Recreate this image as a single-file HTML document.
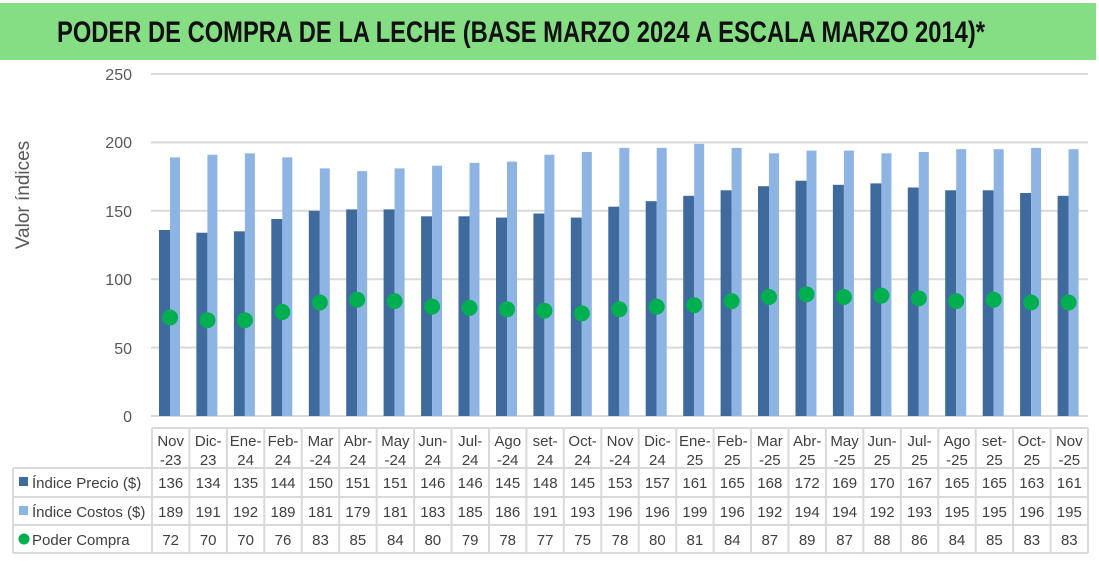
<!DOCTYPE html>
<html><head><meta charset="utf-8"><style>
body{margin:0;background:#fff;width:1099px;height:568px;overflow:hidden}
svg{display:block;font-family:"Liberation Sans",sans-serif}
.t{font-size:15px;fill:#404040;text-anchor:middle}
.y{font-size:16px;fill:#595959;text-anchor:end}
</style></head><body>
<svg width="1099" height="568" viewBox="0 0 1099 568">
<rect x="0" y="3" width="1096" height="57" fill="#86de84"/>
<text x="521" y="42" text-anchor="middle" font-size="30" font-weight="bold" fill="#111" textLength="928" lengthAdjust="spacingAndGlyphs" style="font-family:'Liberation Sans Narrow','Liberation Sans',sans-serif">PODER DE COMPRA DE LA LECHE (BASE MARZO 2024 A ESCALA MARZO 2014)*</text>
<g stroke="#d9d9d9" stroke-width="2">
<line x1="151" x2="1088" y1="74" y2="74"/><line x1="151" x2="1088" y1="142.4" y2="142.4"/><line x1="151" x2="1088" y1="210.8" y2="210.8"/><line x1="151" x2="1088" y1="279.2" y2="279.2"/><line x1="151" x2="1088" y1="347.6" y2="347.6"/><line x1="151" x2="1088" y1="416" y2="416"/>
</g>
<g class="y"><text class="y" x="132" y="80">250</text><text class="y" x="132" y="148">200</text><text class="y" x="132" y="217">150</text><text class="y" x="132" y="285">100</text><text class="y" x="132" y="354">50</text><text class="y" x="132" y="422">0</text></g>
<text transform="translate(29,195) rotate(-90)" text-anchor="middle" font-size="19" fill="#595959">Valor índices</text>
<defs><g id="d"></g></defs>
<g fill="#3f6a9e">
<rect x="159" y="230" width="11" height="186"/><rect x="196.4" y="232.7" width="11" height="183.3"/><rect x="233.9" y="231.3" width="11" height="184.7"/><rect x="271.3" y="219" width="11" height="197"/><rect x="308.8" y="210.8" width="11" height="205.2"/><rect x="346.2" y="209.4" width="11" height="206.6"/><rect x="383.6" y="209.4" width="11" height="206.6"/><rect x="421.1" y="216.3" width="11" height="199.7"/><rect x="458.5" y="216.3" width="11" height="199.7"/><rect x="496" y="217.6" width="11" height="198.4"/><rect x="533.4" y="213.5" width="11" height="202.5"/><rect x="570.8" y="217.6" width="11" height="198.4"/><rect x="608.3" y="206.7" width="11" height="209.3"/><rect x="645.7" y="201.2" width="11" height="214.8"/><rect x="683.2" y="195.8" width="11" height="220.2"/><rect x="720.6" y="190.3" width="11" height="225.7"/><rect x="758" y="186.2" width="11" height="229.8"/><rect x="795.5" y="180.7" width="11" height="235.3"/><rect x="832.9" y="184.8" width="11" height="231.2"/><rect x="870.4" y="183.4" width="11" height="232.6"/><rect x="907.8" y="187.5" width="11" height="228.5"/><rect x="945.2" y="190.3" width="11" height="225.7"/><rect x="982.7" y="190.3" width="11" height="225.7"/><rect x="1020.1" y="193" width="11" height="223"/><rect x="1057.6" y="195.8" width="11" height="220.2"/>
</g>
<g fill="#8eb4e3">
<rect x="170" y="157.4" width="10" height="258.6"/><rect x="207.4" y="154.7" width="10" height="261.3"/><rect x="244.9" y="153.3" width="10" height="262.7"/><rect x="282.3" y="157.4" width="10" height="258.6"/><rect x="319.8" y="168.4" width="10" height="247.6"/><rect x="357.2" y="171.1" width="10" height="244.9"/><rect x="394.6" y="168.4" width="10" height="247.6"/><rect x="432.1" y="165.7" width="10" height="250.3"/><rect x="469.5" y="162.9" width="10" height="253.1"/><rect x="507" y="161.6" width="10" height="254.4"/><rect x="544.4" y="154.7" width="10" height="261.3"/><rect x="581.8" y="152" width="10" height="264"/><rect x="619.3" y="147.9" width="10" height="268.1"/><rect x="656.7" y="147.9" width="10" height="268.1"/><rect x="694.2" y="143.8" width="10" height="272.2"/><rect x="731.6" y="147.9" width="10" height="268.1"/><rect x="769" y="153.3" width="10" height="262.7"/><rect x="806.5" y="150.6" width="10" height="265.4"/><rect x="843.9" y="150.6" width="10" height="265.4"/><rect x="881.4" y="153.3" width="10" height="262.7"/><rect x="918.8" y="152" width="10" height="264"/><rect x="956.2" y="149.2" width="10" height="266.8"/><rect x="993.7" y="149.2" width="10" height="266.8"/><rect x="1031.1" y="147.9" width="10" height="268.1"/><rect x="1068.6" y="149.2" width="10" height="266.8"/>
</g>
<g fill="#00b050">
<circle cx="170" cy="317.5" r="8"/><circle cx="207.4" cy="320.2" r="8"/><circle cx="244.9" cy="320.2" r="8"/><circle cx="282.3" cy="312" r="8"/><circle cx="319.8" cy="302.5" r="8"/><circle cx="357.2" cy="299.7" r="8"/><circle cx="394.6" cy="301.1" r="8"/><circle cx="432.1" cy="306.6" r="8"/><circle cx="469.5" cy="307.9" r="8"/><circle cx="507" cy="309.3" r="8"/><circle cx="544.4" cy="310.7" r="8"/><circle cx="581.8" cy="313.4" r="8"/><circle cx="619.3" cy="309.3" r="8"/><circle cx="656.7" cy="306.6" r="8"/><circle cx="694.2" cy="305.2" r="8"/><circle cx="731.6" cy="301.1" r="8"/><circle cx="769" cy="297" r="8"/><circle cx="806.5" cy="294.2" r="8"/><circle cx="843.9" cy="297" r="8"/><circle cx="881.4" cy="295.6" r="8"/><circle cx="918.8" cy="298.4" r="8"/><circle cx="956.2" cy="301.1" r="8"/><circle cx="993.7" cy="299.7" r="8"/><circle cx="1031.1" cy="302.5" r="8"/><circle cx="1068.6" cy="302.5" r="8"/>
</g>
<!-- table grid -->
<g stroke="#d9d9d9" stroke-width="2" fill="none">
<line x1="152" x2="1088" y1="428" y2="428"/>
<line x1="13" x2="1088" y1="468" y2="468"/><line x1="13" x2="1088" y1="497" y2="497"/><line x1="13" x2="1088" y1="525" y2="525"/><line x1="13" x2="1088" y1="553" y2="553"/>
<line x1="13" x2="13" y1="468" y2="553"/>
<line x1="152" x2="152" y1="428" y2="553"/><line x1="189.4" x2="189.4" y1="428" y2="553"/><line x1="226.9" x2="226.9" y1="428" y2="553"/><line x1="264.3" x2="264.3" y1="428" y2="553"/><line x1="301.8" x2="301.8" y1="428" y2="553"/><line x1="339.2" x2="339.2" y1="428" y2="553"/><line x1="376.6" x2="376.6" y1="428" y2="553"/><line x1="414.1" x2="414.1" y1="428" y2="553"/><line x1="451.5" x2="451.5" y1="428" y2="553"/><line x1="489" x2="489" y1="428" y2="553"/><line x1="526.4" x2="526.4" y1="428" y2="553"/><line x1="563.8" x2="563.8" y1="428" y2="553"/><line x1="601.3" x2="601.3" y1="428" y2="553"/><line x1="638.7" x2="638.7" y1="428" y2="553"/><line x1="676.2" x2="676.2" y1="428" y2="553"/><line x1="713.6" x2="713.6" y1="428" y2="553"/><line x1="751" x2="751" y1="428" y2="553"/><line x1="788.5" x2="788.5" y1="428" y2="553"/><line x1="825.9" x2="825.9" y1="428" y2="553"/><line x1="863.4" x2="863.4" y1="428" y2="553"/><line x1="900.8" x2="900.8" y1="428" y2="553"/><line x1="938.2" x2="938.2" y1="428" y2="553"/><line x1="975.7" x2="975.7" y1="428" y2="553"/><line x1="1013.1" x2="1013.1" y1="428" y2="553"/><line x1="1050.6" x2="1050.6" y1="428" y2="553"/><line x1="1088" x2="1088" y1="428" y2="553"/>
</g>
<rect x="19" y="477" width="9" height="9" fill="#3f6a9e"/>
<rect x="19" y="506" width="9" height="9" fill="#8eb4e3"/>
<circle cx="24" cy="539" r="5.5" fill="#00b050"/>
<g font-size="15" fill="#404040">
<text x="32" y="488">Índice Precio ($)</text>
<text x="32" y="517">Índice Costos ($)</text>
<text x="32" y="545">Poder Compra</text>
</g>
<g class="t">
<text class="t" x="170.7" y="446">Nov</text><text class="t" x="170.7" y="465">-23</text>
<text class="t" x="208.2" y="446">Dic-</text><text class="t" x="208.2" y="465">23</text>
<text class="t" x="245.6" y="446">Ene-</text><text class="t" x="245.6" y="465">24</text>
<text class="t" x="283" y="446">Feb-</text><text class="t" x="283" y="465">24</text>
<text class="t" x="320.5" y="446">Mar</text><text class="t" x="320.5" y="465">-24</text>
<text class="t" x="357.9" y="446">Abr-</text><text class="t" x="357.9" y="465">24</text>
<text class="t" x="395.4" y="446">May</text><text class="t" x="395.4" y="465">-24</text>
<text class="t" x="432.8" y="446">Jun-</text><text class="t" x="432.8" y="465">24</text>
<text class="t" x="470.2" y="446">Jul-</text><text class="t" x="470.2" y="465">24</text>
<text class="t" x="507.7" y="446">Ago</text><text class="t" x="507.7" y="465">-24</text>
<text class="t" x="545.1" y="446">set-</text><text class="t" x="545.1" y="465">24</text>
<text class="t" x="582.6" y="446">Oct-</text><text class="t" x="582.6" y="465">24</text>
<text class="t" x="620" y="446">Nov</text><text class="t" x="620" y="465">-24</text>
<text class="t" x="657.4" y="446">Dic-</text><text class="t" x="657.4" y="465">24</text>
<text class="t" x="694.9" y="446">Ene-</text><text class="t" x="694.9" y="465">25</text>
<text class="t" x="732.3" y="446">Feb-</text><text class="t" x="732.3" y="465">25</text>
<text class="t" x="769.8" y="446">Mar</text><text class="t" x="769.8" y="465">-25</text>
<text class="t" x="807.2" y="446">Abr-</text><text class="t" x="807.2" y="465">25</text>
<text class="t" x="844.6" y="446">May</text><text class="t" x="844.6" y="465">-25</text>
<text class="t" x="882.1" y="446">Jun-</text><text class="t" x="882.1" y="465">25</text>
<text class="t" x="919.5" y="446">Jul-</text><text class="t" x="919.5" y="465">25</text>
<text class="t" x="957" y="446">Ago</text><text class="t" x="957" y="465">-25</text>
<text class="t" x="994.4" y="446">set-</text><text class="t" x="994.4" y="465">25</text>
<text class="t" x="1031.8" y="446">Oct-</text><text class="t" x="1031.8" y="465">25</text>
<text class="t" x="1069.3" y="446">Nov</text><text class="t" x="1069.3" y="465">-25</text>
</g>
<g class="t">
<text class="t" x="170.7" y="488">136</text><text class="t" x="208.2" y="488">134</text><text class="t" x="245.6" y="488">135</text><text class="t" x="283" y="488">144</text><text class="t" x="320.5" y="488">150</text><text class="t" x="357.9" y="488">151</text><text class="t" x="395.4" y="488">151</text><text class="t" x="432.8" y="488">146</text><text class="t" x="470.2" y="488">146</text><text class="t" x="507.7" y="488">145</text><text class="t" x="545.1" y="488">148</text><text class="t" x="582.6" y="488">145</text><text class="t" x="620" y="488">153</text><text class="t" x="657.4" y="488">157</text><text class="t" x="694.9" y="488">161</text><text class="t" x="732.3" y="488">165</text><text class="t" x="769.8" y="488">168</text><text class="t" x="807.2" y="488">172</text><text class="t" x="844.6" y="488">169</text><text class="t" x="882.1" y="488">170</text><text class="t" x="919.5" y="488">167</text><text class="t" x="957" y="488">165</text><text class="t" x="994.4" y="488">165</text><text class="t" x="1031.8" y="488">163</text><text class="t" x="1069.3" y="488">161</text>
</g>
<g class="t">
<text class="t" x="170.7" y="517">189</text><text class="t" x="208.2" y="517">191</text><text class="t" x="245.6" y="517">192</text><text class="t" x="283" y="517">189</text><text class="t" x="320.5" y="517">181</text><text class="t" x="357.9" y="517">179</text><text class="t" x="395.4" y="517">181</text><text class="t" x="432.8" y="517">183</text><text class="t" x="470.2" y="517">185</text><text class="t" x="507.7" y="517">186</text><text class="t" x="545.1" y="517">191</text><text class="t" x="582.6" y="517">193</text><text class="t" x="620" y="517">196</text><text class="t" x="657.4" y="517">196</text><text class="t" x="694.9" y="517">199</text><text class="t" x="732.3" y="517">196</text><text class="t" x="769.8" y="517">192</text><text class="t" x="807.2" y="517">194</text><text class="t" x="844.6" y="517">194</text><text class="t" x="882.1" y="517">192</text><text class="t" x="919.5" y="517">193</text><text class="t" x="957" y="517">195</text><text class="t" x="994.4" y="517">195</text><text class="t" x="1031.8" y="517">196</text><text class="t" x="1069.3" y="517">195</text>
</g>
<g class="t">
<text class="t" x="170.7" y="545">72</text><text class="t" x="208.2" y="545">70</text><text class="t" x="245.6" y="545">70</text><text class="t" x="283" y="545">76</text><text class="t" x="320.5" y="545">83</text><text class="t" x="357.9" y="545">85</text><text class="t" x="395.4" y="545">84</text><text class="t" x="432.8" y="545">80</text><text class="t" x="470.2" y="545">79</text><text class="t" x="507.7" y="545">78</text><text class="t" x="545.1" y="545">77</text><text class="t" x="582.6" y="545">75</text><text class="t" x="620" y="545">78</text><text class="t" x="657.4" y="545">80</text><text class="t" x="694.9" y="545">81</text><text class="t" x="732.3" y="545">84</text><text class="t" x="769.8" y="545">87</text><text class="t" x="807.2" y="545">89</text><text class="t" x="844.6" y="545">87</text><text class="t" x="882.1" y="545">88</text><text class="t" x="919.5" y="545">86</text><text class="t" x="957" y="545">84</text><text class="t" x="994.4" y="545">85</text><text class="t" x="1031.8" y="545">83</text><text class="t" x="1069.3" y="545">83</text>
</g>
</svg>
</body></html>
